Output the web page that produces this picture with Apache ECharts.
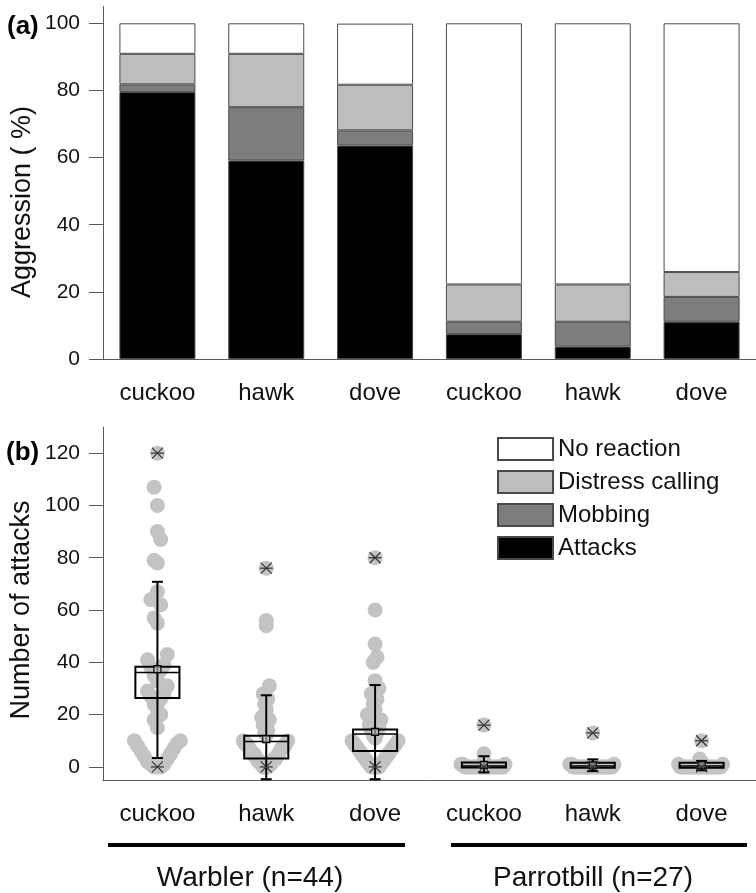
<!DOCTYPE html>
<html><head><meta charset="utf-8">
<script src="https://cdn.jsdelivr.net/npm/echarts@6/dist/echarts.min.js"></script>
<style>html,body{margin:0;padding:0;background:#fff}#c{width:756px;height:893px}</style>
</head><body><div id="c"></div>
<script>
// ---------- data ----------
const categories = ['cuckoo', 'hawk', 'dove', 'cuckoo', 'hawk', 'dove'];
const groupNames = ['Warbler (n=44)', 'Parrotbill (n=27)'];
const reactionNames = ['No reaction', 'Distress calling', 'Mobbing', 'Attacks'];
const axisTitles = ['Aggression ( %)', 'Number of attacks'];

// panel (a): percentages (stacked, bottom -> top: attacks, mobbing, distress, no reaction)
const attacksPct    = [79.5, 59.1, 63.6, 7.4, 3.7, 11.1];
const mobbingPct    = [2.3, 15.9, 4.5, 3.7, 7.4, 7.4];
const distressPct   = [9.1, 15.9, 13.6, 11.1, 11.1, 7.4];
const noReactionPct = [9.1, 9.1, 18.2, 77.8, 77.8, 74.1];
const pctTicks = [0, 20, 40, 60, 80, 100];

// panel (b): box statistics per category
const whiskerLow  = [3.4, -4.7, -4.7, -2.1, -1.6, -1.3];
const boxQ1       = [26.4, 3.2, 6.1, -0.2, -0.3, -0.3];
const boxMedian   = [36.1, 9.7, 12.6, 0.4, 0.4, 0.4];
const boxQ3       = [38.3, 11.9, 14.3, 1.7, 1.6, 1.6];
const whiskerHigh = [70.8, 27.4, 31.3, 4.1, 2.9, 2.3];
const boxMean     = [37.4, 10.6, 13.4, 0.8, 0.6, 0.7];
const minAttacks  = [0, 0, 0, 0, 0, 0];
const maxAttacks  = [120, 76, 80, 16, 13, 10];
const attackTicks = [0, 20, 40, 60, 80, 100, 120];

// panel (b): individual numbers of attacks
const warblerCuckoo = [120, 107, 100, 90, 87, 79, 78, 67, 64, 62, 57, 55, 43, 41, 39, 38, 37, 35, 33, 31, 29, 28, 27, 26, 24, 22, 20, 18, 15, 10, 10, 9, 8, 7, 6, 5, 4, 3, 2, 1, 1, 0, 0, 0];
const warblerHawk   = [76, 56, 54, 31, 28, 26, 24, 22, 19, 18, 16, 14, 13, 12, 10, 10, 9, 9, 9, 8, 8, 8, 7, 7, 6, 6, 5, 5, 5, 4, 4, 3, 3, 3, 2, 2, 2, 1, 1, 1, 0, 0, 0, 0];
const warblerDove   = [80, 60, 47, 42, 40, 33, 30, 28, 26, 24, 22, 20, 18, 16, 15, 14, 13, 12, 11, 10, 10, 9, 9, 8, 8, 7, 7, 6, 6, 5, 5, 4, 4, 3, 3, 2, 2, 1, 1, 0, 0, 0, 0, 0];
const parrotbillCuckoo = [16, 5, 2, 1, 1, 1, 0, 0, 0, 0, 0, 0, 0, 0, 0, 0, 0, 0, 0, 0, 0, 0, 0, 0, 0, 0, 0];
const parrotbillHawk   = [13, 1, 1, 1, 0, 0, 0, 0, 0, 0, 0, 0, 0, 0, 0, 0, 0, 0, 0, 0, 0, 0, 0, 0, 0, 0, 0];
const parrotbillDove   = [10, 3, 2, 1, 1, 0, 0, 0, 0, 0, 0, 0, 0, 0, 0, 0, 0, 0, 0, 0, 0, 0, 0, 0, 0, 0, 0];
const attackLists = [warblerCuckoo, warblerHawk, warblerDove, parrotbillCuckoo, parrotbillHawk, parrotbillDove];

// ---------- layout helpers ----------
const FONT = '"Liberation Sans", Arial, Helvetica, sans-serif';
const AX = '#5a5a5a';
const BIN_WIDTH = [11, 11, 11, 2, 2, 2];  // bin width used to arrange the dots
const HALF_SPAN = 23;                     // max horizontal spread of dots (px)

// bin-based dot arrangement: within a bin sort ascending, alternate offsets
const dotData = [];
const dotStep = [];
const catStepPx = [];
attackLists.forEach((list, ci) => {
  const bins = {};
  list.forEach(v => { const b = Math.floor(v / BIN_WIDTH[ci]); (bins[b] = bins[b] || []).push(v); });
  let maxHalf = 1;
  Object.keys(bins).forEach(b => {
    const arr = bins[b].slice().sort((a, c) => a - c);
    maxHalf = Math.max(maxHalf, Math.floor(arr.length / 2));
    arr.forEach((v, k) => {
      const s = k === 0 ? 0 : (k % 2 === 1 ? -Math.ceil(k / 2) : Math.ceil(k / 2));
      dotData.push([ci, v]);
      dotStep.push(s);
    });
  });
  catStepPx[ci] = HALF_SPAN / maxHalf;
});

const boxData = categories.map((c, i) => [i, whiskerLow[i], boxQ1[i], boxMedian[i], boxQ3[i], whiskerHigh[i], boxMean[i], minAttacks[i], maxAttacks[i]]);

function starMark(p) {
  const s = 5.5;
  return [
    {type: 'line', shape: {x1: p[0] - s, y1: p[1] - s, x2: p[0] + s, y2: p[1] + s}, style: {stroke: '#333', lineWidth: 1.2}},
    {type: 'line', shape: {x1: p[0] - s, y1: p[1] + s, x2: p[0] + s, y2: p[1] - s}, style: {stroke: '#333', lineWidth: 1.2}},
    {type: 'line', shape: {x1: p[0] - s - 1, y1: p[1], x2: p[0] + s + 1, y2: p[1]}, style: {stroke: '#333', lineWidth: 1.2}}
  ];
}

function renderBox(params, api) {
  const c = api.value(0);
  const low = api.coord([c, api.value(1)]);
  const q1 = api.coord([c, api.value(2)]);
  const med = api.coord([c, api.value(3)]);
  const q3 = api.coord([c, api.value(4)]);
  const high = api.coord([c, api.value(5)]);
  const mean = api.coord([c, api.value(6)]);
  const mn = api.coord([c, api.value(7)]);
  const mx = api.coord([c, api.value(8)]);
  const band = api.size([1, 0])[0];
  const bw = band * 0.405;
  const x = low[0];
  const cap = 5.5;
  const lw = 2;
  const children = [
    {type: 'line', shape: {x1: x, y1: low[1], x2: x, y2: high[1]}, style: {stroke: '#000', lineWidth: lw}},
    {type: 'line', shape: {x1: x - cap, y1: low[1], x2: x + cap, y2: low[1]}, style: {stroke: '#000', lineWidth: lw}},
    {type: 'line', shape: {x1: x - cap, y1: high[1], x2: x + cap, y2: high[1]}, style: {stroke: '#000', lineWidth: lw}},
    {type: 'rect', shape: {x: x - bw / 2, y: q3[1], width: bw, height: q1[1] - q3[1]}, style: {fill: null, stroke: '#000', lineWidth: lw}},
    {type: 'line', shape: {x1: x - bw / 2, y1: med[1], x2: x + bw / 2, y2: med[1]}, style: {stroke: '#000', lineWidth: 1.5}},
    {type: 'rect', shape: {x: x - 3.5, y: mean[1] - 3.5, width: 7, height: 7}, style: {fill: 'rgba(200,200,200,0.6)', stroke: '#000', lineWidth: 1.2}}
  ].concat(starMark(mn), starMark(mx));
  return {type: 'group', children};
}

function renderDot(params, api) {
  const c = api.value(0);
  const p = api.coord([c, api.value(1)]);
  const off = dotStep[params.dataIndex] * catStepPx[c];
  return {type: 'circle', shape: {cx: p[0] + off, cy: p[1], r: 7.5}, style: {fill: '#c3c3c3'}};
}

function catAxisMain(grid) {
  return {
    gridIndex: grid, type: 'category', data: categories, position: 'bottom',
    axisLine: {onZero: false, lineStyle: {color: AX, width: 1}},
    axisTick: {alignWithLabel: true, length: 14, lineStyle: {color: AX}},
    axisLabel: {fontSize: 24, color: '#111', margin: 22, fontFamily: FONT}
  };
}
function catAxisMinor(grid) {
  return {
    gridIndex: grid, type: 'category', data: categories, position: 'bottom',
    axisLine: {show: false, onZero: false},
    axisTick: {length: 7, lineStyle: {color: AX}},
    axisLabel: {show: false}
  };
}
function valAxis(grid, min, max, ticks) {
  return {
    gridIndex: grid, type: 'value', min, max, position: 'left',
    splitLine: {show: false},
    axisLine: {show: true, lineStyle: {color: AX}},
    axisTick: {show: true, length: 14, customValues: ticks, lineStyle: {color: AX}},
    axisLabel: {customValues: ticks, fontSize: 21, color: '#111', margin: 23, fontFamily: FONT}
  };
}

const barStyle = (color) => ({color, borderColor: '#4a4a4a', borderWidth: 1});

const option = {
  animation: false,
  backgroundColor: '#fff',
  textStyle: {fontFamily: FONT},
  grid: [
    {left: 103, top: 6.5, width: 654, height: 352.5},
    {left: 103, top: 427, width: 654, height: 353}
  ],
  legend: {
    data: reactionNames, orient: 'vertical', left: 497, top: 437, padding: 0,
    itemWidth: 55, itemHeight: 22, itemGap: 9, selectedMode: false, icon: 'rect',
    textStyle: {fontSize: 24, color: '#111', fontFamily: FONT}
  },
  xAxis: [catAxisMain(0), catAxisMinor(0), catAxisMain(1), catAxisMinor(1)],
  yAxis: [
    valAxis(0, 0, 105, pctTicks),
    valAxis(1, -5, 130, attackTicks)
  ],
  series: [
    {name: 'Attacks', type: 'bar', stack: 'a', xAxisIndex: 0, yAxisIndex: 0, barWidth: 76, data: attacksPct, itemStyle: barStyle('#000000')},
    {name: 'Mobbing', type: 'bar', stack: 'a', xAxisIndex: 0, yAxisIndex: 0, barWidth: 76, data: mobbingPct, itemStyle: barStyle('#7d7d7d')},
    {name: 'Distress calling', type: 'bar', stack: 'a', xAxisIndex: 0, yAxisIndex: 0, barWidth: 76, data: distressPct, itemStyle: barStyle('#bdbdbd')},
    {name: 'No reaction', type: 'bar', stack: 'a', xAxisIndex: 0, yAxisIndex: 0, barWidth: 76, data: noReactionPct, itemStyle: barStyle('#ffffff')},
    {type: 'custom', xAxisIndex: 2, yAxisIndex: 1, z: 1, data: dotData, renderItem: renderDot, silent: true},
    {type: 'custom', xAxisIndex: 2, yAxisIndex: 1, z: 3, data: boxData, renderItem: renderBox, silent: true}
  ],
  graphic: [
    {type: 'text', left: 7, top: 14, style: {text: '(a)', font: 'bold 26px ' + FONT, fill: '#000'}},
    {type: 'text', left: 6, top: 440, style: {text: '(b)', font: 'bold 26px ' + FONT, fill: '#000'}},
    {type: 'text', x: 23, y: 202, rotation: Math.PI / 2, style: {text: axisTitles[0], font: '27px ' + FONT, fill: '#111', align: 'center', verticalAlign: 'middle'}},
    {type: 'text', x: 22, y: 610, rotation: Math.PI / 2, style: {text: axisTitles[1], font: '27px ' + FONT, fill: '#111', align: 'center', verticalAlign: 'middle'}},
    {type: 'line', shape: {x1: 108, y1: 845, x2: 405, y2: 845}, style: {stroke: '#000', lineWidth: 4}},
    {type: 'line', shape: {x1: 451, y1: 845, x2: 747, y2: 845}, style: {stroke: '#000', lineWidth: 4}},
    {type: 'text', x: 250, y: 878, style: {text: groupNames[0], font: '28px ' + FONT, fill: '#111', align: 'center', verticalAlign: 'middle'}},
    {type: 'text', x: 593, y: 878, style: {text: groupNames[1], font: '28px ' + FONT, fill: '#111', align: 'center', verticalAlign: 'middle'}}
  ]
};

const chart = echarts.init(document.getElementById('c'), null, {renderer: 'canvas'});
chart.setOption(option);
</script>
</body></html>
